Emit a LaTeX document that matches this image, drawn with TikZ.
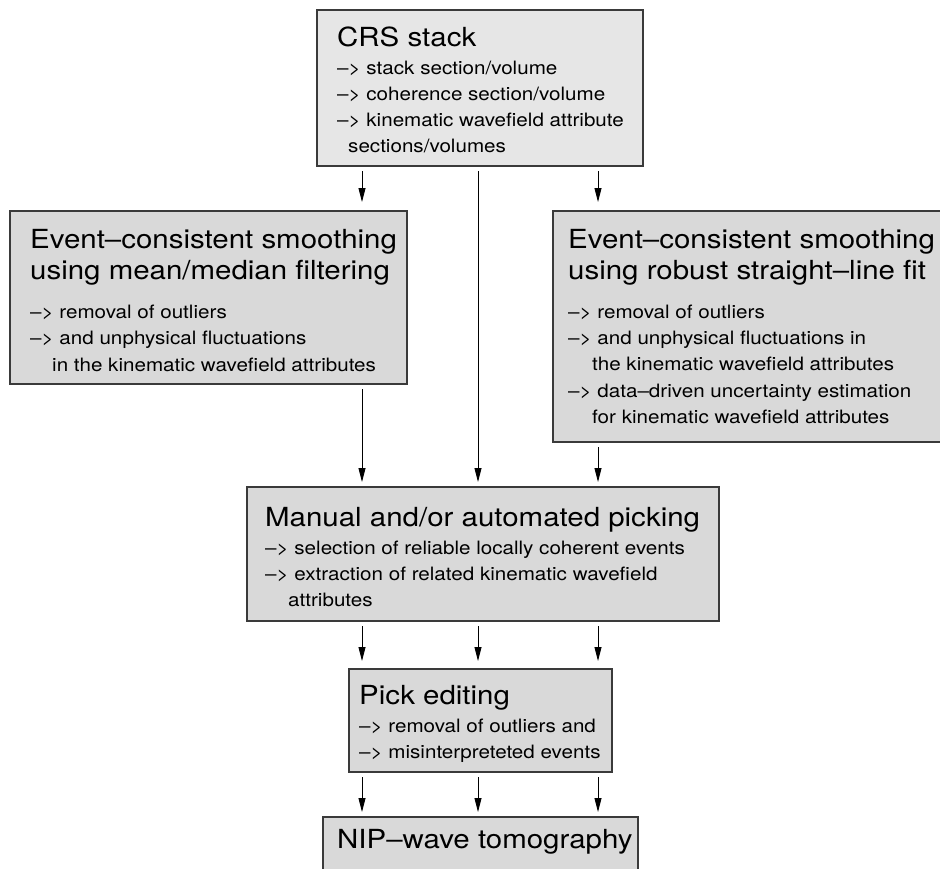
\documentclass[tikz,border=0pt]{standalone}
\usepackage{fontspec}
\setmainfont{TeX Gyre Heros}[FakeStretch=1.12]
\usetikzlibrary{arrows.meta}
\definecolor{boxlight}{HTML}{E6E6E6}
\definecolor{boxfill}{HTML}{D9D9D9}
\definecolor{boxedge}{HTML}{3A3A3A}
\begin{document}
\begin{tikzpicture}[x=1pt,y=-1pt,
  box/.style={draw=boxedge, line width=1.1pt, fill=boxfill, rectangle, anchor=north west, inner sep=0pt, outer sep=0pt},
  ttl/.style={anchor=base west, inner sep=0pt, font=\fontsize{26.3}{30}\selectfont},
  sub/.style={anchor=base west, inner sep=0pt, font=\fontsize{18.4}{22}\selectfont},
  arr/.style={line width=0.9pt, -{Triangle[length=14pt,width=7pt]}, shorten <=5pt, shorten >=5pt}]
\useasboundingbox (0,0) rectangle (940,868);
\clip (0,0) rectangle (940,868);
% boxes
\node[box, fill=boxlight, minimum width=326pt, minimum height=156pt] (crs) at (317,10) {};
\node[box, minimum width=397pt, minimum height=173pt] (mean) at (10,211) {};
\node[box, minimum width=400pt, minimum height=231pt] (robust) at (553,211) {};
\node[box, minimum width=472pt, minimum height=134pt] (manual) at (247,487) {};
\node[box, minimum width=263pt, minimum height=103pt] (pick) at (349,669) {};
\node[box, minimum width=315pt, minimum height=80pt] (nip) at (323,817) {};
% texts
\node[ttl] (crsT) at (337,46) {CRS stack};
\node[sub] (crs1) at (337,74) {\textendash> stack section/volume};
\node[sub] (crs2) at (337,100) {\textendash> coherence section/volume};
\node[sub] (crs3) at (337,126) {\textendash> kinematic wavefield attribute};
\node[sub] (crs4) at (348,152) {sections/volumes};

\node[ttl] (meanT1) at (30,248) {Event\textendash consistent smoothing};
\node[ttl] (meanT2) at (30,279) {using mean/median filtering};
\node[sub] (mean1) at (30,318) {\textendash> removal of outliers};
\node[sub] (mean2) at (30,344) {\textendash> and unphysical fluctuations};
\node[sub] (mean3) at (52,371) {in the kinematic wavefield attributes};

\node[ttl] (robT1) at (568,248) {Event\textendash consistent smoothing};
\node[ttl] (robT2) at (568,279) {using robust straight\textendash line fit};
\node[sub] (rob1) at (568,318) {\textendash> removal of outliers};
\node[sub] (rob2) at (568,344) {\textendash> and unphysical fluctuations in};
\node[sub] (rob3) at (592,370) {the kinematic wavefield attributes};
\node[sub] (rob4) at (568,397) {\textendash> data\textendash driven uncertainty estimation};
\node[sub] (rob5) at (592,423) {for kinematic wavefield attributes};

\node[ttl] (manT) at (265,526) {Manual and/or automated picking};
\node[sub] (man1) at (265,554) {\textendash> selection of reliable locally coherent events};
\node[sub] (man2) at (265,580) {\textendash> extraction of related kinematic wavefield};
\node[sub] (man3) at (288,606) {attributes};

\node[ttl] (pickT) at (359,704) {Pick editing};
\node[sub] (pick1) at (359,732) {\textendash> removal of outliers and};
\node[sub] (pick2) at (359,758) {\textendash> misinterpreteted events};

\node[ttl] (nipT) at (337,848) {NIP\textendash wave tomography};
% arrow columns
\coordinate (c1) at (362,0);
\coordinate (c2) at (478,0);
\coordinate (c3) at (598,0);
\draw[arr, shorten >=9pt] (crs.south -| c1) -- (mean.north -| c1);
\draw[arr] (crs.south -| c2) -- (manual.north -| c2);
\draw[arr, shorten >=9pt] (crs.south -| c3) -- (robust.north -| c3);
\draw[arr] (mean.south -| c1) -- (manual.north -| c1);
\draw[arr] (robust.south -| c3) -- (manual.north -| c3);
\draw[arr, shorten >=8pt] (manual.south -| c1) -- (pick.north -| c1);
\draw[arr, shorten >=8pt] (manual.south -| c2) -- (pick.north -| c2);
\draw[arr, shorten >=8pt] (manual.south -| c3) -- (pick.north -| c3);
\draw[arr] (pick.south -| c1) -- (nip.north -| c1);
\draw[arr] (pick.south -| c2) -- (nip.north -| c2);
\draw[arr] (pick.south -| c3) -- (nip.north -| c3);
\end{tikzpicture}
\end{document}
